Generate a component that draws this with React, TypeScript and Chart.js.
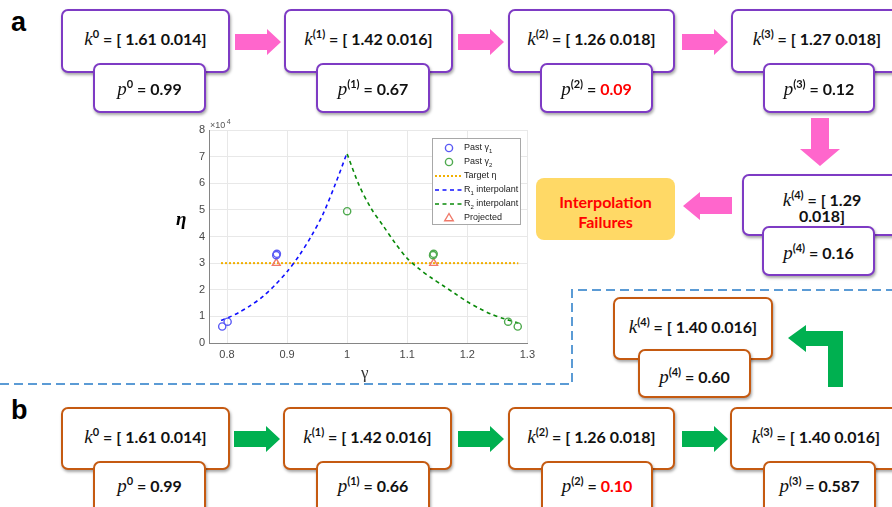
import React, { useEffect, useRef } from "react";
import { Chart, registerables } from "chart.js";
Chart.register(...registerables);

// ---------- chart data (eta in units of 1e4) ----------
const xTicks = [0.8, 0.9, 1.0, 1.1, 1.2, 1.3];
const pastG1X = [0.792, 0.801, 0.882, 0.883];
const pastG1Y = [0.62, 0.8, 3.3, 3.35];
const pastG2X = [1.0, 1.143, 1.144, 1.268, 1.284];
const pastG2Y = [4.95, 3.3, 3.35, 0.8, 0.62];
const projX = [0.882, 1.144];
const projY = [3.0, 3.0];
const targetX = [0.79, 1.285];
const targetY = [3.0, 3.0];
const r1X = [0.79, 0.8, 0.82, 0.84, 0.86, 0.88, 0.9, 0.92, 0.94, 0.96, 0.98, 1.0];
const r1Y = [0.85, 0.93, 1.15, 1.42, 1.75, 2.18, 2.68, 3.28, 4.0, 4.85, 5.95, 7.15];
const r2X = [1.0, 1.02, 1.04, 1.06, 1.08, 1.1, 1.12, 1.14, 1.16, 1.18, 1.2, 1.22, 1.24, 1.26, 1.285];
const r2Y = [7.1, 5.92, 5.05, 4.4, 3.75, 3.18, 2.78, 2.45, 2.15, 1.85, 1.55, 1.3, 1.08, 0.92, 0.75];

// ---------- diagram text ----------
const rowAK = [
  { sup: "0", val: "[ 1.61 0.014]" },
  { sup: "(1)", val: "[ 1.42 0.016]" },
  { sup: "(2)", val: "[ 1.26 0.018]" },
  { sup: "(3)", val: "[ 1.27 0.018]" },
];
const rowAP = [
  { sup: "0", val: "0.99", red: false },
  { sup: "(1)", val: "0.67", red: false },
  { sup: "(2)", val: "0.09", red: true },
  { sup: "(3)", val: "0.12", red: false },
];
const rowBK = [
  { sup: "0", val: "[ 1.61 0.014]" },
  { sup: "(1)", val: "[ 1.42 0.016]" },
  { sup: "(2)", val: "[ 1.26 0.018]" },
  { sup: "(3)", val: "[ 1.40 0.016]" },
];
const rowBP = [
  { sup: "0", val: "0.99", red: false },
  { sup: "(1)", val: "0.66", red: false },
  { sup: "(2)", val: "0.10", red: true },
  { sup: "(3)", val: "0.587", red: false },
];

const PURPLE = "#7E3BC4";
const ORANGE = "#C55A11";
const PINK = "#FF66CC";
const GREEN = "#00B050";
const BOXFONT = "Lato, 'Open Sans', sans-serif";
const SERIF = "'Liberation Serif', 'DejaVu Serif', serif";

const kAX = [61, 284, 508, 731];
const kAW = [169, 169, 167, 172];
const pAX = [93, 316, 540, 763];
const pAW = [113, 114, 113, 112];
const kBX = [61, 283, 508, 730];
const kBW = [169, 169, 167, 172];
const pBX = [93, 316, 541, 763];
const pBW = [113, 114, 112, 113];

function Sym({ ch, sup }: { ch: string; sup: string }) {
  return (
    <span>
      <span style={{ fontFamily: SERIF, fontStyle: "italic", fontWeight: 400, fontSize: 19 }}>{ch}</span>
      <span style={{ fontSize: 11, verticalAlign: 7, fontWeight: 700 }}>{sup}</span>
    </span>
  );
}

function Box({ x, y, w, h, color, children, textTop, zIndex }: any) {
  return (
    <div
      style={{
        position: "absolute",
        left: x,
        top: y,
        width: w,
        height: h,
        boxSizing: "border-box",
        border: `2px solid ${color}`,
        borderRadius: 7,
        background: "#fff",
        boxShadow: "1px 2px 3px rgba(0,0,0,0.35)",
        zIndex,
      }}
    >
      <div
        style={{
          position: "absolute",
          left: 0,
          right: 0,
          top: textTop - 2 - 11,
          lineHeight: "22px",
          textAlign: "center",
          fontFamily: BOXFONT,
          fontWeight: 700,
          fontSize: 16,
          color: "#111",
          whiteSpace: "nowrap",
        }}
      >
        {children}
      </div>
    </div>
  );
}

function rightArrow(x0: number, cy: number, color: string, key: string) {
  const pts = [
    [x0, cy - 8],
    [x0 + 32, cy - 8],
    [x0 + 32, cy - 13],
    [x0 + 46, cy],
    [x0 + 32, cy + 13],
    [x0 + 32, cy + 8],
    [x0, cy + 8],
  ];
  return <polygon key={key} points={pts.map((p) => p.join(",")).join(" ")} fill={color} />;
}

const legendPlugin = {
  id: "mlLegend",
  afterDraw(chart: any) {
    const ctx = chart.ctx as CanvasRenderingContext2D;
    const ds = chart.data.datasets;
    ctx.save();
    // x10^4
    ctx.fillStyle = "#555";
    ctx.font = "9px 'Liberation Sans', Arial, sans-serif";
    ctx.textBaseline = "alphabetic";
    ctx.fillText("\u00d710", 50, 10);
    ctx.font = "7px 'Liberation Sans', Arial, sans-serif";
    ctx.fillText("4", 50 + ctx.measureText("\u00d710").width + 5, 6);

    const bx = 272, by = 20, bw = 88, bh = 86;
    ctx.fillStyle = "#fff";
    ctx.fillRect(bx, by, bw, bh);
    ctx.strokeStyle = "#a8a8a8";
    ctx.lineWidth = 1;
    ctx.strokeRect(bx + 0.5, by + 0.5, bw, bh);
    const rows = [
      { i: 4, kind: "circle", parts: [["Past \u03b3", 0], ["1", 1]] },
      { i: 5, kind: "circle", parts: [["Past \u03b3", 0], ["2", 1]] },
      { i: 0, kind: "line", parts: [["Target \u03b7", 0]] },
      { i: 1, kind: "line", parts: [["R", 0], ["1", 1], [" interpolant", 0]] },
      { i: 2, kind: "line", parts: [["R", 0], ["2", 1], [" interpolant", 0]] },
      { i: 3, kind: "tri", parts: [["Projected", 0]] },
    ];
    rows.forEach((r, k) => {
      const cy = 30 + k * 14;
      const d = ds[r.i];
      if (r.kind === "line") {
        ctx.beginPath();
        ctx.setLineDash(d.borderDash || []);
        ctx.strokeStyle = d.borderColor;
        ctx.lineWidth = d.borderWidth;
        ctx.moveTo(275, cy);
        ctx.lineTo(303, cy);
        ctx.stroke();
        ctx.setLineDash([]);
      } else if (r.kind === "circle") {
        ctx.beginPath();
        ctx.strokeStyle = d.pointBorderColor;
        ctx.lineWidth = d.pointBorderWidth;
        ctx.arc(289, cy, d.pointRadius, 0, Math.PI * 2);
        ctx.stroke();
      } else {
        const rr = d.pointRadius;
        ctx.beginPath();
        ctx.strokeStyle = d.pointBorderColor;
        ctx.lineWidth = d.pointBorderWidth;
        ctx.moveTo(289, cy - rr);
        ctx.lineTo(289 + rr * 0.95, cy + rr * 0.6);
        ctx.lineTo(289 - rr * 0.95, cy + rr * 0.6);
        ctx.closePath();
        ctx.stroke();
      }
      let tx = 304;
      ctx.fillStyle = "#222";
      ctx.textBaseline = "middle";
      (r.parts as any[]).forEach(([s, sub]) => {
        ctx.font = sub ? "6px 'Liberation Sans', Arial, sans-serif" : "9px 'Liberation Sans', Arial, sans-serif";
        ctx.fillText(s, tx, sub ? cy + 3 : cy);
        tx += ctx.measureText(s).width;
      });
    });
    ctx.restore();
  },
};

function EtaChart() {
  const ref = useRef<HTMLCanvasElement | null>(null);
  useEffect(() => {
    if (!ref.current) return;
    const pts = (xs: number[], ys: number[]) => xs.map((x, i) => ({ x, y: ys[i] }));
    const tickFont = { family: "'Liberation Sans', Arial, sans-serif", size: 11 };
    const chart = new Chart(ref.current, {
      type: "scatter",
      data: {
        datasets: [
          {
            label: "Target eta",
            data: pts(targetX, targetY),
            showLine: true,
            borderColor: "#F2B000",
            borderWidth: 2,
            borderDash: [2, 2],
            pointRadius: 0,
            order: 5,
          },
          {
            label: "R1 interpolant",
            data: pts(r1X, r1Y),
            showLine: true,
            borderColor: "#1010FF",
            borderWidth: 1.6,
            borderDash: [4, 3.5],
            pointRadius: 0,
            tension: 0.3,
            order: 4,
          },
          {
            label: "R2 interpolant",
            data: pts(r2X, r2Y),
            showLine: true,
            borderColor: "#0A8A0A",
            borderWidth: 1.6,
            borderDash: [4, 3.5],
            pointRadius: 0,
            tension: 0.3,
            order: 3,
          },
          {
            label: "Projected",
            data: pts(projX, projY),
            pointStyle: "triangle",
            pointRadius: 4.5,
            pointBorderColor: "#F07A6A",
            pointBackgroundColor: "rgba(0,0,0,0)",
            pointBorderWidth: 1.4,
            order: 2,
          },
          {
            label: "Past g1",
            data: pts(pastG1X, pastG1Y),
            pointStyle: "circle",
            pointRadius: 3.6,
            pointBorderColor: "#5A5AF5",
            pointBackgroundColor: "rgba(0,0,0,0)",
            pointBorderWidth: 1.4,
            order: 1,
          },
          {
            label: "Past g2",
            data: pts(pastG2X, pastG2Y),
            pointStyle: "circle",
            pointRadius: 3.6,
            pointBorderColor: "#4FAA4F",
            pointBackgroundColor: "rgba(0,0,0,0)",
            pointBorderWidth: 1.4,
            order: 0,
          },
        ] as any,
      },
      options: {
        animation: false,
        responsive: false,
        devicePixelRatio: 1,
        layout: { padding: { top: 12, right: 12, left: 0, bottom: 0 } },
        plugins: { legend: { display: false }, tooltip: { enabled: false } },
        scales: {
          x: {
            type: "linear",
            min: 0.77,
            max: 1.3,
            afterBuildTicks: (s: any) => {
              s.ticks = xTicks.map((v) => ({ value: v }));
            },
            afterFit: (s: any) => {
              s.height = 27;
            },
            ticks: {
              callback: (v: any) => (Number(v) === 1 ? "1" : Number(v).toFixed(1)),
              font: tickFont,
              color: "#474747",
              padding: 5,
              maxRotation: 0,
              autoSkip: false,
            },
            grid: { color: "#e8e8e8", drawTicks: false },
            border: { display: true, color: "#858585", width: 1 },
          },
          y: {
            min: 0,
            max: 8,
            afterFit: (s: any) => {
              s.width = 49;
            },
            ticks: { stepSize: 1, font: tickFont, color: "#474747", padding: 4 },
            grid: { color: "#e8e8e8", drawTicks: false },
            border: { display: true, color: "#858585", width: 1 },
          },
        },
      } as any,
      plugins: [legendPlugin as any],
    });
    return () => chart.destroy();
  }, []);
  return <canvas ref={ref} width={380} height={252} style={{ position: "absolute", left: 160, top: 118, width: 380, height: 252 }} />;
}

export default function App() {
  return (
    <div style={{ position: "absolute", left: 0, top: 0, width: 892, height: 507, overflow: "hidden", background: "#fff" }}>
      <svg width={892} height={507} style={{ position: "absolute", left: 0, top: 0 }}>
        <path d="M0,384 H572 V290 H892" fill="none" stroke="#5B9BD5" strokeWidth={2} strokeDasharray="9 5" />
        {rightArrow(235, 42, PINK, "a1")}
        {rightArrow(458, 42, PINK, "a2")}
        {rightArrow(682, 42, PINK, "a3")}
        {rightArrow(234, 439, GREEN, "b1")}
        {rightArrow(458, 439, GREEN, "b2")}
        {rightArrow(682, 439, GREEN, "b3")}
        <polygon points="811,118 829,118 829,149 840,149 820,166 800,149 811,149" fill={PINK} />
        <polygon points="683,206 700,192 700,197 732,197 732,214 700,214 700,220" fill={PINK} />
        <polygon points="788,338 806,325 806,331 843,331 843,387 828,387 828,346 806,346 806,352" fill={GREEN} />
      </svg>

      <div style={{ position: "absolute", left: 11, top: 7, fontFamily: "'Liberation Sans', Arial, sans-serif", fontWeight: 700, fontSize: 27 }}>a</div>
      <div style={{ position: "absolute", left: 11, top: 395, fontFamily: "'Liberation Sans', Arial, sans-serif", fontWeight: 700, fontSize: 27 }}>b</div>

      {rowAK.map((k, i) => (
        <Box key={"ak" + i} x={kAX[i]} y={9} w={kAW[i]} h={64} color={PURPLE} textTop={25} zIndex={1}>
          <Sym ch="k" sup={k.sup} /> = {k.val}
        </Box>
      ))}
      {rowAP.map((p, i) => (
        <Box key={"ap" + i} x={pAX[i]} y={63} w={pAW[i]} h={50} color={PURPLE} textTop={21} zIndex={2}>
          <Sym ch="p" sup={p.sup} /> = <span style={{ color: p.red ? "#FF0000" : "#111" }}>{p.val}</span>
        </Box>
      ))}

      <Box x={742} y={174} w={160} h={62} color={PURPLE} textTop={21} zIndex={1}>
        <Sym ch="k" sup="(4)" /> = [ 1.29
        <div style={{ lineHeight: "16px", marginTop: -3 }}>0.018]</div>
      </Box>
      <Box x={762} y={226} w={113} h={50} color={PURPLE} textTop={22} zIndex={2}>
        <Sym ch="p" sup="(4)" /> = 0.16
      </Box>

      <div
        style={{
          position: "absolute",
          left: 536,
          top: 178,
          width: 139,
          height: 62,
          background: "#FFD966",
          borderRadius: 8,
          color: "#FF0000",
          fontFamily: BOXFONT,
          fontWeight: 700,
          fontSize: 16,
          lineHeight: "20px",
          textAlign: "center",
          paddingTop: 14,
          boxSizing: "border-box",
        }}
      >
        Interpolation
        <br />
        Failures
      </div>

      <Box x={613} y={297} w={160} h={63} color={ORANGE} textTop={25} zIndex={1}>
        <Sym ch="k" sup="(4)" /> = [ 1.40 0.016]
      </Box>
      <Box x={638} y={349} w={113} h={49} color={ORANGE} textTop={23} zIndex={2}>
        <Sym ch="p" sup="(4)" /> = 0.60
      </Box>

      {rowBK.map((k, i) => (
        <Box key={"bk" + i} x={kBX[i]} y={407} w={kBW[i]} h={63} color={ORANGE} textTop={25} zIndex={1}>
          <Sym ch="k" sup={k.sup} /> = {k.val}
        </Box>
      ))}
      {rowBP.map((p, i) => (
        <Box key={"bp" + i} x={pBX[i]} y={461} w={pBW[i]} h={60} color={ORANGE} textTop={20} zIndex={2}>
          <Sym ch="p" sup={p.sup} /> = <span style={{ color: p.red ? "#FF0000" : "#111" }}>{p.val}</span>
        </Box>
      ))}

      <EtaChart />
      <div style={{ position: "absolute", left: 176, top: 208, fontFamily: SERIF, fontStyle: "italic", fontWeight: 700, fontSize: 19 }}>η</div>
      <div style={{ position: "absolute", left: 361, top: 363, fontFamily: SERIF, fontSize: 17, color: "#333" }}>γ</div>
    </div>
  );
}
